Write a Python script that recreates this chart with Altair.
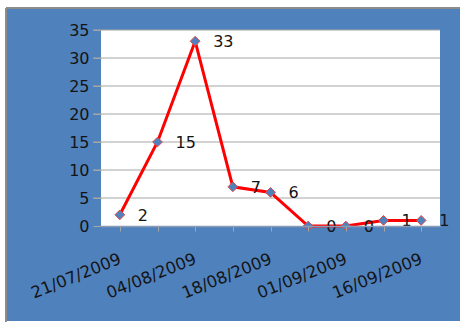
import altair as alt
import pandas as pd

dates = ["21/07/2009", "28/07/2009", "04/08/2009", "11/08/2009", "18/08/2009",
         "25/08/2009", "01/09/2009", "08/09/2009", "16/09/2009"]
values = [2, 15, 33, 7, 6, 0, 0, 1, 1]
shown_labels = ["21/07/2009", "04/08/2009", "18/08/2009", "01/09/2009", "16/09/2009"]
grid_values = [5, 10, 15, 20, 25, 30, 35]
y_ticks = [0, 5, 10, 15, 20, 25, 30, 35]

df = pd.DataFrame({"date": dates, "value": values})
grid_df = pd.DataFrame({"value": grid_values})

W, H = 339, 196
BLUE = "#4F81BD"
FONT = "DejaVu Sans"
TXT = "#141414"

x_scale = alt.Scale(domain=dates, paddingInner=0, paddingOuter=0.5)
y_scale = alt.Scale(domain=[0, 35], nice=False)

label_expr = "indexof(" + str(shown_labels) + ", datum.value) >= 0 ? datum.value : ''"

y_axis = alt.Axis(title=None, values=y_ticks, labelFont=FONT, labelOverlap=False,
                  labelFontSize=16, labelColor=TXT, labelPadding=4, tickSize=8,
                  tickColor="#a6a6a6", domain=False, grid=False, zindex=1)
x_axis = alt.Axis(title=None, labelAngle=-22, labelAlign="right", labelBaseline="middle",
                  labelExpr=label_expr, labelPadding=27, labelFont=FONT,
                  labelFontSize=16.5, labelColor=TXT, tickColor="#a6a6a6",
                  tickSize=5, domainColor="#8c9bb5", domainWidth=1.5, grid=False,
                  labelOverlap=False, labelBound=False, bandPosition=0, zindex=1)

frame = alt.Chart(df).mark_rect(fill=BLUE).encode(
    x=alt.value(-95), x2=alt.value(W + 60), y=alt.value(-22), y2=alt.value(291)
)
border_left = alt.Chart(df).mark_rule(color="#8c8c8c", strokeWidth=1.5).encode(
    x=alt.value(-95), y=alt.value(-22), y2=alt.value(292)
)
border_top = alt.Chart(df).mark_rule(color="#8c8c8c", strokeWidth=1.5).encode(
    x=alt.value(-95), x2=alt.value(W + 60), y=alt.value(-22)
)
plot_bg = alt.Chart(df).mark_rect(fill="white").encode(
    x=alt.value(0), x2=alt.value(W), y=alt.value(0), y2=alt.value(H)
)
grid = alt.Chart(grid_df).mark_rule(color="#a6a6a6", strokeWidth=1).encode(
    y=alt.Y("value:Q", scale=y_scale, axis=y_axis), x=alt.value(-8), x2=alt.value(W)
)

base = alt.Chart(df).encode(
    x=alt.X("date:N", scale=x_scale, sort=dates, axis=x_axis),
    y=alt.Y("value:Q", scale=y_scale, axis=y_axis),
)

line = base.mark_line(color="#FF0000", strokeWidth=3)
points = base.mark_point(shape="diamond", filled=True, fill=BLUE, size=95, opacity=1,
                         stroke="#e04848", strokeWidth=1)
labels = base.mark_text(align="left", dx=18, dy=1, font=FONT, fontSize=16,
                        color=TXT).encode(text="value:Q")

chart = alt.layer(frame, border_left, border_top, plot_bg, grid, line, points, labels).properties(
    width=W, height=H,
    padding={"left": 101, "top": 30, "right": 20, "bottom": 96},
    autosize=alt.AutoSizeParams(type="none"),
    background="white",
).configure_view(stroke=None)

chart.save("out.html", embed_options={"renderer": "svg", "actions": False})
